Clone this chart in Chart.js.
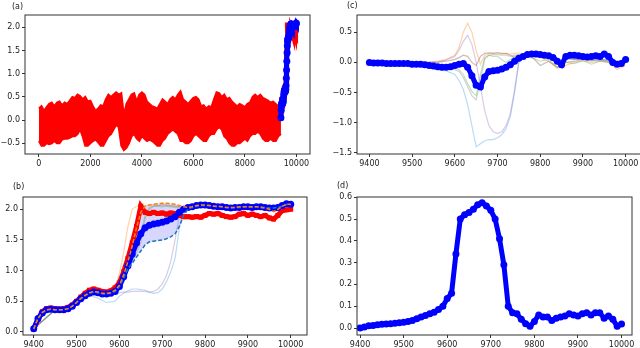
<!DOCTYPE html>
<html>
<head>
<meta charset="utf-8">
<script src="https://cdn.jsdelivr.net/npm/chart.js@4/dist/chart.umd.min.js"></script>
<style>
body { margin: 0; width: 640px; height: 348px; overflow: hidden; position: relative; background: #fff; }
canvas { position: absolute; }
.lbl { position: absolute; font-family: "DejaVu Sans"; font-size: 8px; color: #222; }
</style>
</head>
<body>
<canvas id="pa" width="320" height="174" style="left:0;top:0"></canvas>
<canvas id="pc" width="325" height="174" style="left:320px;top:0"></canvas>
<canvas id="pb" width="320" height="174" style="left:0;top:174px"></canvas>
<canvas id="pd" width="320" height="174" style="left:320px;top:174px"></canvas>
<div class="lbl" style="left:12px;top:2px">(a)</div>
<div class="lbl" style="left:347px;top:1px">(c)</div>
<div class="lbl" style="left:13px;top:182px">(b)</div>
<div class="lbl" style="left:337px;top:181px">(d)</div>
<script>
// tick labels
const aXTicks = [0, 2000, 4000, 6000, 8000, 10000];
const aYTicks = [-0.5, 0.0, 0.5, 1.0, 1.5, 2.0];
const zoomXTicks = [9400, 9500, 9600, 9700, 9800, 9900, 10000];
const bYTicks = [0.0, 0.5, 1.0, 1.5, 2.0];
const cYTicks = [-1.5, -1.0, -0.5, 0.0, 0.5];
const dYTicks = [0.0, 0.1, 0.2, 0.3, 0.4, 0.5, 0.6];

// sample positions
const aX = [];
for (let x = 0; x <= 9400; x += 100) aX.push(x);
const gridX = [];
for (let x = 9400; x <= 10000; x += 10) gridX.push(x);
const bThinX = [9400, 9450, 9500, 9530, 9550, 9570, 9590, 9600, 9610, 9620, 9630, 9640, 9650, 9660, 9670, 9680, 9690, 9700, 9710, 9720,
                9730, 9740, 9750, 9760, 9780, 9800, 9850, 9900, 9950, 9980, 10000];
const cThinX = [9400, 9500, 9540, 9560, 9580, 9600, 9610, 9620, 9630, 9640, 9650, 9660, 9670, 9680, 9690, 9700, 9710, 9720, 9730, 9740,
                9750, 9760, 9780, 9800, 9820, 9840, 9860, 9880, 9900, 9920, 9940, 9960, 9980, 10000];

// (a) red band, upper and lower edge
const aHi = [0.25, 0.3, 0.2, 0.28, 0.35, 0.38, 0.3, 0.38, 0.4, 0.32,
             0.38, 0.35, 0.42, 0.5, 0.48, 0.55, 0.52, 0.45, 0.5, 0.4,
             0.42, 0.3, 0.2, 0.25, 0.32, 0.3, 0.45, 0.55, 0.5, 0.55,
             0.6, 0.55, 0.58, 0.1, 0.35, 0.45, 0.55, 0.58, 0.4, 0.55,
             0.6, 0.55, 0.4, 0.35, 0.3, 0.28, 0.25, 0.35, 0.45, 0.4,
             0.35, 0.45, 0.5, 0.45, 0.55, 0.62, 0.45, 0.4, 0.35, 0.42,
             0.48, 0.5, 0.45, 0.3, 0.32, 0.25, 0.3, 0.28, 0.45, 0.6,
             0.58, 0.5, 0.55, 0.45, 0.48, 0.4, 0.35, 0.3, 0.35, 0.32,
             0.28, 0.35, 0.38, 0.5, 0.55, 0.5, 0.55, 0.48, 0.45, 0.42,
             0.38, 0.4, 0.35, 0.3, 0.3];
const aLo = [-0.45, -0.55, -0.55, -0.5, -0.52, -0.5, -0.45, -0.5, -0.5, -0.42,
             -0.4, -0.4, -0.38, -0.35, -0.35, -0.3, -0.2, -0.35, -0.55, -0.55,
             -0.5, -0.45, -0.42, -0.48, -0.55, -0.55, -0.45, -0.35, -0.3, -0.2,
             -0.1, -0.15, -0.55, -0.65, -0.6, -0.5, -0.35, -0.3, -0.4, -0.45,
             -0.35, -0.4, -0.45, -0.42, -0.45, -0.5, -0.55, -0.55, -0.45, -0.4,
             -0.3, -0.25, -0.2, -0.25, -0.3, -0.45, -0.45, -0.5, -0.5, -0.45,
             -0.35, -0.3, -0.35, -0.4, -0.45, -0.45, -0.35, -0.3, -0.3, -0.2,
             -0.15, -0.2, -0.35, -0.4, -0.5, -0.55, -0.55, -0.5, -0.5, -0.45,
             -0.4, -0.45, -0.35, -0.3, -0.3, -0.25, -0.3, -0.4, -0.45, -0.45,
             -0.4, -0.45, -0.45, -0.35, -0.3];

// (b) main series on gridX
const bBlue = [0.05, 0.22, 0.31, 0.36, 0.37, 0.36, 0.36, 0.36, 0.38, 0.42,
               0.48, 0.54, 0.59, 0.63, 0.65, 0.64, 0.62, 0.62, 0.63, 0.66,
               0.74, 0.9, 1.08, 1.27, 1.45, 1.6, 1.7, 1.74, 1.76, 1.77,
               1.79, 1.81, 1.84, 1.88, 1.95, 2.0, 2.03, 2.04, 2.06, 2.07,
               2.07, 2.06, 2.05, 2.04, 2.04, 2.03, 2.02, 2.03, 2.03, 2.04,
               2.04, 2.03, 2.04, 2.04, 2.03, 2.02, 2.02, 2.03, 2.06, 2.09, 2.08];
const bRed = [0.05, 0.2, 0.33, 0.38, 0.39, 0.38, 0.37, 0.38, 0.4, 0.44,
              0.5, 0.57, 0.63, 0.68, 0.7, 0.68, 0.66, 0.65, 0.67, 0.72,
              0.8, 0.98, 1.2, 1.45, 1.72, 2.05, 1.95, 1.93, 1.95, 1.93,
              1.94, 1.92, 1.94, 1.93, 1.9, 1.88, 1.88, 1.87, 1.88, 1.87,
              1.9, 1.93, 1.92, 1.93, 1.9, 1.88, 1.87, 1.88, 1.92, 1.93,
              1.9, 1.92, 1.9, 1.88, 1.9, 1.86, 1.84, 1.9, 1.98, 1.99, 2.0];
const bOrange = [0.05, 0.22, 0.32, 0.36, 0.37, 0.36, 0.36, 0.36, 0.38, 0.42,
                 0.48, 0.55, 0.6, 0.64, 0.66, 0.65, 0.63, 0.63, 0.64, 0.68,
                 0.76, 0.93, 1.15, 1.4, 1.7, 1.95, 2.05, 2.07, 2.08, 2.09,
                 2.1, 2.1, 2.09, 2.08, 2.06, 2.04, 2.03, 2.04, 2.06, 2.07,
                 2.07, 2.06, 2.05, 2.05, 2.04, 2.03, 2.03, 2.03, 2.04, 2.04,
                 2.04, 2.04, 2.04, 2.03, 2.02, 2.0, 1.96, 2.0, 2.05, 2.08, 2.08];
const bDash = [0.05, 0.22, 0.31, 0.36, 0.37, 0.36, 0.36, 0.36, 0.38, 0.42,
               0.48, 0.54, 0.59, 0.63, 0.65, 0.64, 0.62, 0.62, 0.63, 0.66,
               0.74, 0.88, 1.03, 1.12, 1.22, 1.32, 1.42, 1.47, 1.48, 1.49,
               1.5, 1.52, 1.55, 1.6, 1.72, 1.9, 2.0, 2.03, 2.05, 2.06,
               2.06, 2.06, 2.05, 2.04, 2.04, 2.03, 2.02, 2.03, 2.03, 2.04,
               2.04, 2.03, 2.04, 2.04, 2.03, 2.02, 2.02, 2.03, 2.05, 2.08, 2.07];
// (b) thin members on bThinX
const bPeach = [0.05, 0.36, 0.48, 0.62, 0.64, 0.63, 0.72, 0.95, 1.3, 1.72, 2.0, 2.05, 2.06, 2.06, 2.07, 2.07, 2.06, 2.07, 2.06, 2.06,
                2.05, 2.04, 2.03, 2.02, 2.03, 2.05, 2.03, 2.02, 1.98, 1.95, 2.05];
const bSky = [0.05, 0.36, 0.47, 0.6, 0.55, 0.48, 0.5, 0.58, 0.63, 0.67, 0.7, 0.7, 0.69, 0.68, 0.65, 0.63, 0.64, 0.7, 0.82, 0.98,
              1.2, 1.7, 1.97, 2.02, 2.05, 2.06, 2.03, 2.02, 2.0, 2.04, 2.06];
const bPlum = [0.05, 0.36, 0.48, 0.62, 0.62, 0.6, 0.62, 0.64, 0.65, 0.65, 0.66, 0.66, 0.66, 0.66, 0.65, 0.66, 0.7, 0.78, 0.92, 1.15,
               1.5, 1.9, 2.0, 2.04, 2.06, 2.07, 2.03, 2.04, 2.02, 2.05, 2.07];
const bGrey = [0.05, 0.36, 0.48, 0.62, 0.63, 0.61, 0.64, 0.7, 0.85, 1.0, 1.15, 1.3, 1.45, 1.85, 2.0, 2.05, 2.06, 2.07, 2.07, 2.06,
               2.05, 2.04, 2.03, 2.03, 2.05, 2.06, 2.03, 2.03, 2.02, 2.06, 2.08];
const bGreen = [0.05, 0.36, 0.48, 0.62, 0.63, 0.61, 0.65, 0.72, 0.88, 1.05, 1.22, 1.4, 1.6, 1.9, 2.03, 2.05, 2.05, 2.04, 2.05, 2.04,
                2.03, 2.02, 2.02, 2.03, 2.04, 2.05, 2.02, 2.02, 2.0, 2.04, 2.07];

// (c) difference, main on gridX, members on cThinX
const cBlue = [0.0, -0.01, -0.01, -0.01, -0.02, -0.02, -0.02, -0.02, -0.02, -0.02,
               -0.03, -0.03, -0.03, -0.04, -0.05, -0.06, -0.07, -0.08, -0.08, -0.07,
               -0.05, -0.03, -0.02, -0.08, -0.22, -0.38, -0.41, -0.24, -0.15, -0.14,
               -0.13, -0.11, -0.08, -0.04, 0.02, 0.07, 0.1, 0.13, 0.14, 0.14,
               0.13, 0.12, 0.11, 0.08, 0.02, -0.04, 0.1, 0.12, 0.12, 0.11,
               0.1, 0.09, 0.1, 0.11, 0.1, 0.14, 0.1, 0.0, -0.03, -0.02, 0.05];
const cPeach = [0, 0, 0, 0.02, 0.05, 0.12, 0.25, 0.5, 0.65, 0.5, 0.2, -0.03, 0.12, 0.15, 0.15, 0.16, 0.14, 0.15, 0.14, 0.15,
                0.16, 0.12, 0.1, 0.08, 0.02, -0.1, -0.05, 0.0, 0.03, 0.0, 0.02, 0.0, -0.12, -0.05];
const cSky = [0, -0.02, -0.08, -0.12, -0.14, -0.2, -0.3, -0.45, -0.7, -1.05, -1.4, -1.35, -1.3, -1.28, -1.28, -1.25, -1.2, -1.1, -0.9, -0.5,
              0.0, 0.1, 0.13, 0.12, 0.08, 0.02, 0.08, 0.05, 0.05, 0.03, 0.04, 0.02, 0.0, 0.0];
const cPlum = [0, 0, 0, 0.01, 0.04, 0.1, 0.2, 0.35, 0.45, 0.3, 0.0, -0.4, -0.8, -1.05, -1.15, -1.18, -1.15, -1.05, -0.85, -0.45,
               0.02, 0.1, 0.12, 0.1, 0.08, 0.0, 0.05, 0.05, 0.06, 0.05, 0.06, 0.03, 0.02, 0.03];
const cGrey = [0, -0.02, -0.05, -0.08, -0.1, -0.12, -0.15, -0.25, -0.4, -0.55, -0.62, -0.3, 0.05, 0.12, 0.13, 0.13, 0.12, 0.12, 0.1, 0.12,
               0.13, 0.12, 0.12, 0.1, 0.08, -0.03, 0.08, 0.05, 0.06, 0.07, 0.05, 0.05, -0.02, 0.02];
const cGreen = [0, -0.01, -0.03, -0.05, -0.06, -0.08, -0.12, -0.2, -0.35, -0.48, -0.55, -0.2, 0.08, 0.12, 0.1, 0.1, 0.05, 0.0, 0.05, 0.1,
                0.12, 0.1, 0.08, 0.02, 0.05, -0.08, 0.0, -0.02, 0.03, -0.03, 0.02, 0.0, -0.05, 0.0];
const cBrown = [0, 0, 0, 0, 0.02, 0.05, 0.08, 0.12, 0.1, 0.0, -0.05, 0.1, 0.15, 0.16, 0.15, 0.16, 0.15, 0.15, 0.12, 0.08,
                0.1, 0.12, 0.1, -0.05, 0.02, -0.08, 0.0, 0.02, 0.05, 0.03, 0.04, 0.02, -0.03, 0.0];

// (d) spread, on gridX
const dBlue = [0.0, 0.005, 0.01, 0.012, 0.015, 0.017, 0.018, 0.02, 0.022, 0.024,
               0.026, 0.03, 0.035, 0.042, 0.05, 0.058, 0.065, 0.072, 0.085, 0.1,
               0.135, 0.16, 0.34, 0.5, 0.52, 0.53, 0.545, 0.565, 0.575, 0.56,
               0.54, 0.5, 0.41, 0.29, 0.1, 0.07, 0.065, 0.04, 0.02, 0.008,
               0.03, 0.06, 0.05, 0.05, 0.035, 0.045, 0.05, 0.055, 0.065, 0.06,
               0.055, 0.065, 0.07, 0.06, 0.07, 0.07, 0.045, 0.055, 0.04, 0.008, 0.018];

function pts(xs, ys) {
    return xs.map((x, i) => ({x: x, y: ys[i]}));
}

function thick(data, color, style) {
    return {
        data: data, borderColor: color, backgroundColor: color, borderWidth: 5,
        pointRadius: 3.5, pointStyle: style || 'circle', pointBorderWidth: 0, pointBackgroundColor: color
    };
}

function thin(data, color) {
    return { data: data, borderColor: color, borderWidth: 1.2, pointRadius: 0, fill: false };
}

function dashed(data, color) {
    return { data: data, borderColor: color, borderWidth: 1.5, borderDash: [4, 2], pointRadius: 0, fill: false };
}

const frame = {
    id: 'frame',
    afterDatasetsDraw(chart) {
        const a = chart.chartArea, ctx = chart.ctx;
        ctx.save();
        ctx.strokeStyle = '#333';
        ctx.lineWidth = 1;
        ctx.strokeRect(a.left, a.top, a.right - a.left, a.bottom - a.top);
        ctx.restore();
    }
};

function fmt(v, dec) {
    let s = Math.abs(v).toFixed(dec);
    return (v < -1e-9 ? '\u2212' : '') + s;
}

function panel(id, datasets, o) {
    return new Chart(document.getElementById(id), {
        type: 'line',
        data: { datasets: datasets },
        plugins: [frame],
        options: {
            responsive: false,
            animation: false,
            layout: { padding: { top: o.top, right: o.right, left: 0, bottom: 0 } },
            plugins: { legend: { display: false }, tooltip: { enabled: false }, filler: { drawTime: 'beforeDatasetsDraw' } },
            scales: {
                x: {
                    type: 'linear', min: o.xmin, max: o.xmax,
                    grid: { drawOnChartArea: false, drawTicks: true, tickLength: 3, color: '#333' },
                    border: { display: false },
                    ticks: { autoSkip: false, maxRotation: 0, padding: 2,
                             color: '#222', font: { family: 'DejaVu Sans', size: 8 }, callback: v => String(v) },
                    afterBuildTicks: s => { s.ticks = o.xticks.map(v => ({value: v})); },
                    afterFit: s => { s.height = o.xh; s.paddingLeft = 0; s.paddingRight = 0; }
                },
                y: {
                    type: 'linear', min: o.ymin, max: o.ymax,
                    grid: { drawOnChartArea: false, drawTicks: true, tickLength: 3, color: '#333' },
                    border: { display: false },
                    ticks: { autoSkip: false, padding: 2,
                             color: '#222', font: { family: 'DejaVu Sans', size: 8 }, callback: v => fmt(v, 1) },
                    afterBuildTicks: s => { s.ticks = o.yticks.map(v => ({value: v})); },
                    afterFit: s => { s.width = o.yw; s.paddingTop = 0; s.paddingBottom = 0; }
                }
            }
        }
    });
}

//---- (a) ----
let bandHi = thin(pts(aX, aHi), 'red');
bandHi.borderWidth = 2;
bandHi.fill = '+1';
bandHi.backgroundColor = 'red';
let bandLo = thin(pts(aX, aLo), 'red');
bandLo.borderWidth = 2;
panel('pa', [
    thick(pts(gridX, bBlue), 'blue'),
    thick(pts(gridX, bRed), 'red', 'rect'),
    bandHi,
    bandLo
], { top: 15, right: 10, yw: 25, xh: 20, xmin: -540, xmax: 10530, xticks: aXTicks, ymin: -0.73, ymax: 2.265, yticks: aYTicks });

//---- (b) ----
let orangeDash = dashed(pts(gridX, bOrange), '#ff7f0e');
orangeDash.fill = '+1';
orangeDash.backgroundColor = 'rgba(0, 0, 255, 0.16)';
panel('pb', [
    orangeDash,
    dashed(pts(gridX, bDash), '#1f77b4'),
    thick(pts(gridX, bBlue), 'blue'),
    thick(pts(gridX, bRed), 'red', 'rect'),
    thin(pts(bThinX, bGrey), 'rgba(127, 127, 127, 0.35)'),
    thin(pts(bThinX, bGreen), 'rgba(44, 160, 44, 0.3)'),
    thin(pts(bThinX, bPlum), 'rgba(148, 103, 189, 0.35)'),
    thin(pts(bThinX, bSky), 'rgba(60, 150, 220, 0.35)'),
    thin(pts(bThinX, bPeach), 'rgba(255, 127, 14, 0.35)')
], { top: 23, right: 13, yw: 23, xh: 13, xmin: 9375, xmax: 10038, xticks: zoomXTicks, ymin: -0.05, ymax: 2.2, yticks: bYTicks });

//---- (c) ----
panel('pc', [
    thick(pts(gridX, cBlue), 'blue'),
    thin(pts(cThinX, cBrown), 'rgba(140, 86, 75, 0.4)'),
    thin(pts(cThinX, cGreen), 'rgba(44, 160, 44, 0.3)'),
    thin(pts(cThinX, cGrey), 'rgba(127, 127, 127, 0.35)'),
    thin(pts(cThinX, cPlum), 'rgba(148, 103, 189, 0.35)'),
    thin(pts(cThinX, cSky), 'rgba(60, 150, 220, 0.35)'),
    thin(pts(cThinX, cPeach), 'rgba(255, 127, 14, 0.35)')
], { top: 15, right: 0, yw: 37, xh: 20, xmin: 9371, xmax: 10036, xticks: zoomXTicks, ymin: -1.52, ymax: 0.787, yticks: cYTicks });

//---- (d) ----
panel('pd', [
    thick(pts(gridX, dBlue), 'blue')
], { top: 23, right: 8, yw: 37, xh: 13, xmin: 9393, xmax: 10024, xticks: zoomXTicks, ymin: -0.032, ymax: 0.601, yticks: dYTicks });
</script>
</body>
</html>
